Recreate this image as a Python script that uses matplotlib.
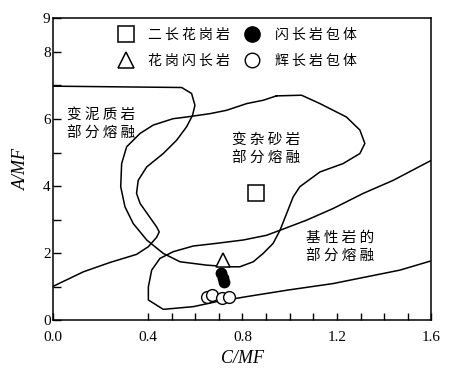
import matplotlib
matplotlib.use("Agg")
import matplotlib.pyplot as plt
from matplotlib.lines import Line2D

# --- field boundaries (C/MF, A/MF) ---
# metapelite partial melting field (closed by the y axis)
pelite_x = [0.000, 0.127, 0.240, 0.352, 0.402, 0.437, 0.448, 0.437, 0.402, 0.367,
            0.352, 0.359, 0.395, 0.465, 0.522, 0.564, 0.589, 0.599, 0.585, 0.543, 0.000]
pelite_y = [1.01, 1.44, 1.72, 1.96, 2.19, 2.47, 2.63, 2.78, 3.13, 3.48,
            3.78, 4.17, 4.57, 4.97, 5.37, 5.77, 6.11, 6.41, 6.76, 6.94, 6.98]

# metagreywacke partial melting field (closed loop)
grey_x = [0.944, 1.050, 1.128, 1.240, 1.297, 1.318, 1.297, 1.226, 1.128, 1.043,
          1.015, 0.987, 0.959, 0.930, 0.888, 0.846, 0.789, 0.747, 0.648, 0.536,
          0.465, 0.395, 0.338, 0.303, 0.285, 0.289, 0.310, 0.367, 0.423, 0.507,
          0.564, 0.663, 0.733, 0.818, 0.888, 0.944]
grey_y = [6.69, 6.71, 6.46, 6.06, 5.67, 5.27, 4.97, 4.67, 4.42, 3.98,
          3.68, 3.18, 2.68, 2.29, 1.99, 1.74, 1.59, 1.59, 1.64, 1.74,
          1.99, 2.39, 2.88, 3.38, 3.98, 4.67, 5.17, 5.57, 5.82, 6.01,
          6.06, 6.16, 6.26, 6.46, 6.56, 6.69]

# basaltic partial melting field (open to the right)
basalt_x = [1.600, 1.438, 1.311, 1.184, 1.071, 0.959, 0.902, 0.804, 0.691, 0.592,
            0.507, 0.451, 0.416, 0.402, 0.402, 0.465, 0.592, 0.691, 0.818, 0.987,
            1.184, 1.325, 1.466, 1.600]
basalt_y = [4.77, 4.17, 3.78, 3.33, 2.98, 2.68, 2.53, 2.39, 2.29, 2.21,
            2.04, 1.84, 1.49, 0.99, 0.60, 0.32, 0.40, 0.55, 0.70, 0.89,
            1.09, 1.29, 1.49, 1.77]

# --- samples ---
mzg_x = [0.857]                 # 二长花岗岩
mzg_y = [3.78]
gd_x = [0.716]                  # 花岗闪长岩
gd_y = [1.79]
dio_x = [0.710, 0.716, 0.722]   # 闪长岩包体
dio_y = [1.40, 1.27, 1.14]
gab_x = [0.650, 0.672, 0.715, 0.745]   # 辉长岩包体
gab_y = [0.70, 0.75, 0.65, 0.70]

legend_labels = ["二 长 花 岗 岩", "花 岗 闪 长 岩", "闪 长 岩 包 体", "辉 长 岩 包 体"]
field_labels = ["变 泥 质 岩\n部 分 熔 融", "变 杂 砂 岩\n部 分 熔 融", "基 性 岩 的\n部 分 熔 融"]
field_x = [0.056, 0.754, 1.071]
field_y = [5.84, 5.10, 2.18]

cjk = ["Noto Sans CJK SC", "DejaVu Sans"]
serif = "Liberation Serif"

fig = plt.figure(figsize=(4.68, 3.77), dpi=100)
ax = fig.add_axes([0.114, 0.151, 0.808, 0.800])

lw = 1.1
ax.plot(pelite_x, pelite_y, color="black", lw=lw)
ax.plot(grey_x, grey_y, color="black", lw=lw)
ax.plot(basalt_x, basalt_y, color="black", lw=lw)

ax.plot(mzg_x, mzg_y, ls="none", marker="s", ms=11, mfc="white", mec="black", mew=1.1)
ax.plot(gd_x, gd_y, ls="none", marker="^", ms=9.5, mfc="white", mec="black", mew=1.1)
ax.plot(dio_x, dio_y, ls="none", marker="o", ms=7.5, mfc="black", mec="black", mew=1.0)
ax.plot(gab_x, gab_y, ls="none", marker="o", ms=8.5, mfc="white", mec="black", mew=1.0)

# region labels
for lab, tx, ty in zip(field_labels, field_x, field_y):
    ax.text(tx, ty, lab, family=cjk, fontsize=10.5, va="center", ha="left",
            linespacing=1.45)

# legend
handles = [
    Line2D([], [], ls="none", marker="s", ms=11, mfc="white", mec="black", mew=1.1),
    Line2D([], [], ls="none", marker="^", ms=11, mfc="white", mec="black", mew=1.1),
    Line2D([], [], ls="none", marker="o", ms=11, mfc="black", mec="black", mew=1.0),
    Line2D([], [], ls="none", marker="o", ms=10.5, mfc="white", mec="black", mew=1.0),
]
ax.legend(handles, legend_labels, ncol=2, loc="upper left", bbox_to_anchor=(0.174, 0.97),
          frameon=False, borderpad=0, borderaxespad=0, handlelength=1.0,
          handletextpad=1.1, columnspacing=1.1, labelspacing=0.9,
          prop={"family": cjk, "size": 10})

ax.set_xlim(0, 1.6)
ax.set_ylim(0, 9)
ax.set_xticks([0.0, 0.4, 0.8, 1.2, 1.6])
ax.set_xticklabels(["0.0", "0.4", "0.8", "1.2", "1.6"])
ax.set_xticks([0.5, 0.6, 0.7, 0.9, 1.0, 1.1, 1.3, 1.4, 1.5], minor=True)
ax.set_yticks([0, 2, 4, 6, 8, 9])
ax.set_yticklabels(["0", "2", "4", "6", "8", "9"])
ax.set_yticks([1, 3, 5, 7], minor=True)

ax.tick_params(axis="x", which="both", direction="in", length=5, width=1, pad=8,
               labelsize=11, labelfontfamily=serif)
ax.tick_params(axis="y", which="both", direction="in", length=6, width=1, pad=2,
               labelsize=11, labelfontfamily=serif)
for s in ax.spines.values():
    s.set_linewidth(1.1)

ax.set_xlabel("C/MF", family=serif, style="italic", fontsize=13, labelpad=4)
ax.set_ylabel("A/MF", family=serif, style="italic", fontsize=13, labelpad=9)

fig.savefig("out.png", dpi=100)
